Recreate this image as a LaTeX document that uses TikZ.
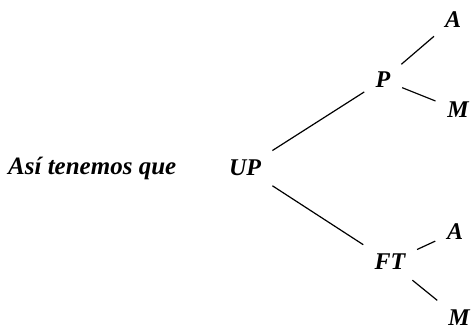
\documentclass[tikz,border=0pt]{standalone}
\usepackage{fontspec}
\setmainfont{Liberation Serif}
\begin{document}
\begin{tikzpicture}[x=1pt, y=-1pt]
	      \tikzset{hoja/.style={font=\fontsize{24}{28}\selectfont\bfseries\itshape, inner sep=7pt},
	               rama/.style={line width=1.2pt, shorten <=5pt, shorten >=5pt}}
	      \useasboundingbox (0,0) rectangle (471,331);

	      \node [hoja, anchor=west, inner sep=0pt, font=\fontsize{25}{28}\selectfont\bfseries\itshape] (texto) at (8,168) {Así tenemos que};
	      \node [hoja] (UP) at (245,168) {UP};

	      \node [hoja] (P) at (383,80) {P};
	      \node [hoja] (PA) at (453,20) {A};
	      \node [hoja] (PM) at (458,110) {M};

	      \node [hoja] (FT) at (390,262) {FT};
	      \node [hoja] (FTA) at (455,232) {A};
	      \node [hoja] (FTM) at (459,318) {M};

	      \draw [rama] (UP) -- (P);
	      \draw [rama] (UP) -- (FT);
	      \draw [rama] (P) -- (PA);
	      \draw [rama] (P) -- (PM);
	      \draw [rama] (FT) -- (FTA);
	      \draw [rama] (FT) -- (FTM);
\end{tikzpicture}
\end{document}
